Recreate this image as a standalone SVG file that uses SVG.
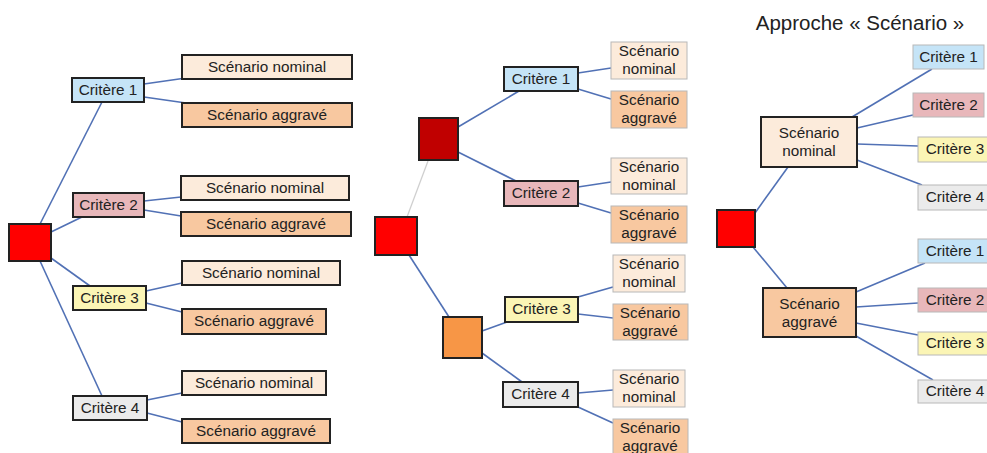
<svg xmlns="http://www.w3.org/2000/svg" width="987" height="453" viewBox="0 0 987 453">
<style>
text{font-family:"Liberation Sans",Arial,sans-serif;font-size:15.3px;fill:#222;text-anchor:middle}
.title{font-size:20.5px;fill:#222}
.b{stroke:#222;stroke-width:2}
.g{stroke:#b8b8b8;stroke-width:1}
.c1{fill:#c5e4f7}.c2{fill:#e8b7ba}.c3{fill:#fbf5b5}.c4{fill:#ebebeb}
.sn{fill:#fcebdb}.sa{fill:#f8c8a0}
.red{fill:#ff0000}.dred{fill:#c00000}.org{fill:#f79646}
#connectors line{stroke:#5171b5;stroke-width:1.6}
#connectors line.faint{stroke:#cfcfcf;stroke-width:1.3}
</style>
<rect width="987" height="453" fill="#ffffff"/>
<g id="connectors">
<line x1="40" y1="224" x2="102" y2="102"/>
<line x1="51" y1="232" x2="82" y2="217"/>
<line x1="51" y1="258" x2="90" y2="286"/>
<line x1="40" y1="261" x2="102" y2="396"/>
<line x1="144" y1="84" x2="186" y2="78"/>
<line x1="144" y1="97" x2="186" y2="103"/>
<line x1="144" y1="201" x2="181" y2="197"/>
<line x1="144" y1="210" x2="181" y2="216"/>
<line x1="146" y1="291" x2="182" y2="283"/>
<line x1="146" y1="303" x2="182" y2="312"/>
<line x1="147" y1="400" x2="182" y2="393"/>
<line x1="147" y1="413" x2="182" y2="422"/>
<line class="faint" x1="428" y1="161" x2="407" y2="217"/>
<line x1="409" y1="255" x2="449" y2="317"/>
<line x1="458" y1="127" x2="519" y2="91"/>
<line x1="458" y1="152" x2="516" y2="181"/>
<line x1="482" y1="331" x2="507" y2="322"/>
<line x1="482" y1="353" x2="522" y2="382"/>
<line x1="578" y1="73" x2="611" y2="68"/>
<line x1="578" y1="89" x2="611" y2="99"/>
<line x1="578" y1="187" x2="611" y2="182"/>
<line x1="578" y1="203" x2="611" y2="213"/>
<line x1="578" y1="297" x2="613" y2="287"/>
<line x1="578" y1="314" x2="613" y2="318"/>
<line x1="578" y1="393" x2="613" y2="390"/>
<line x1="578" y1="407" x2="613" y2="423"/>
<line x1="755" y1="213" x2="788" y2="167"/>
<line x1="852" y1="117" x2="932" y2="69"/>
<line x1="857" y1="128" x2="913" y2="115"/>
<line x1="857" y1="144" x2="918" y2="146"/>
<line x1="857" y1="160" x2="922" y2="185"/>
<line x1="753" y1="247" x2="787" y2="288"/>
<line x1="856" y1="292" x2="925" y2="263"/>
<line x1="856" y1="307" x2="918" y2="303"/>
<line x1="856" y1="323" x2="918" y2="335"/>
<line x1="856" y1="336" x2="933" y2="380"/>
</g>

<g id="p1-root"><rect class="red b" x="9" y="224" width="42" height="37"/></g>
<g id="p1-c1"><rect class="c1 b" x="72" y="78" width="72" height="24"/><text x="108" y="95">Critère 1</text></g>
<g id="p1-c1-n"><rect class="sn b" x="182" y="55" width="170" height="24"/><text x="267" y="72">Scénario nominal</text></g>
<g id="p1-c1-a"><rect class="sa b" x="182" y="103" width="170" height="24"/><text x="267" y="120">Scénario aggravé</text></g>
<g id="p1-c2"><rect class="c2 b" x="73" y="193" width="71" height="24"/><text x="108.5" y="210">Critère 2</text></g>
<g id="p1-c2-n"><rect class="sn b" x="181" y="176" width="168" height="24"/><text x="265" y="193">Scénario nominal</text></g>
<g id="p1-c2-a"><rect class="sa b" x="181" y="212" width="170" height="24"/><text x="266" y="229">Scénario aggravé</text></g>
<g id="p1-c3"><rect class="c3 b" x="73" y="286" width="73" height="24"/><text x="109.5" y="303">Critère 3</text></g>
<g id="p1-c3-n"><rect class="sn b" x="182" y="261" width="158" height="24"/><text x="261" y="278">Scénario nominal</text></g>
<g id="p1-c3-a"><rect class="sa b" x="182" y="309" width="144" height="25"/><text x="254" y="326">Scénario aggravé</text></g>
<g id="p1-c4"><rect class="c4 b" x="73" y="396" width="74" height="24"/><text x="110" y="413">Critère 4</text></g>
<g id="p1-c4-n"><rect class="sn b" x="182" y="371" width="144" height="24"/><text x="254" y="388">Scénario nominal</text></g>
<g id="p1-c4-a"><rect class="sa b" x="182" y="419" width="148" height="24"/><text x="256" y="436">Scénario aggravé</text></g>

<g id="p2-root"><rect class="red b" x="375" y="217" width="42" height="38"/></g>
<g id="p2-dark"><rect class="dred b" x="419" y="118" width="39" height="42"/></g>
<g id="p2-orange"><rect class="org b" x="443" y="317" width="39" height="41"/></g>
<g id="p2-c1"><rect class="c1 b" x="504" y="67" width="74" height="24"/><text x="541" y="84">Critère 1</text></g>
<g id="p2-c1-n"><rect class="sn g" x="611" y="42" width="76" height="37"/><text x="649" y="56">Scénario</text><text x="649" y="74">nominal</text></g>
<g id="p2-c1-a"><rect class="sa g" x="611" y="91" width="76" height="37"/><text x="649" y="105">Scénario</text><text x="649" y="123">aggravé</text></g>
<g id="p2-c2"><rect class="c2 b" x="504" y="181" width="74" height="25"/><text x="541" y="198">Critère 2</text></g>
<g id="p2-c2-n"><rect class="sn g" x="611" y="158" width="76" height="36"/><text x="649" y="172">Scénario</text><text x="649" y="190">nominal</text></g>
<g id="p2-c2-a"><rect class="sa g" x="611" y="206" width="76" height="37"/><text x="649" y="220">Scénario</text><text x="649" y="238">aggravé</text></g>
<g id="p2-c3"><rect class="c3 b" x="505" y="297" width="73" height="25"/><text x="541.5" y="314">Critère 3</text></g>
<g id="p2-c3-n"><rect class="sn g" x="613" y="255" width="72" height="37"/><text x="649" y="269">Scénario</text><text x="649" y="287">nominal</text></g>
<g id="p2-c3-a"><rect class="sa g" x="613" y="304" width="75" height="36"/><text x="650" y="318">Scénario</text><text x="650" y="336">aggravé</text></g>
<g id="p2-c4"><rect class="c4 b" x="503" y="382" width="75" height="25"/><text x="540.5" y="399">Critère 4</text></g>
<g id="p2-c4-n"><rect class="sn g" x="613" y="370" width="72" height="37"/><text x="649" y="384">Scénario</text><text x="649" y="402">nominal</text></g>
<g id="p2-c4-a"><rect class="sa g" x="613" y="419" width="75" height="38"/><text x="650" y="433">Scénario</text><text x="650" y="451">aggravé</text></g>

<text class="title" x="860" y="30">Approche « Scénario »</text>
<g id="p3-root"><rect class="red b" x="717" y="210" width="38" height="37"/></g>
<g id="p3-n"><rect class="sn b" x="761" y="117" width="96" height="50"/><text x="809" y="138">Scénario</text><text x="809" y="156">nominal</text></g>
<g id="p3-a"><rect class="sa b" x="763" y="288" width="93" height="49"/><text x="809.5" y="309">Scénario</text><text x="809.5" y="327">aggravé</text></g>
<g id="p3-n-c1"><rect class="c1 g" x="913" y="45" width="71" height="24"/><text x="948.5" y="62">Critère 1</text></g>
<g id="p3-n-c2"><rect class="c2 g" x="913" y="93" width="71" height="24"/><text x="948.5" y="110">Critère 2</text></g>
<g id="p3-n-c3"><rect class="c3 g" x="918" y="137" width="72" height="25"/><text x="955" y="154">Critère 3</text></g>
<g id="p3-n-c4"><rect class="c4 g" x="918" y="185" width="72" height="25"/><text x="955" y="202">Critère 4</text></g>
<g id="p3-a-c1"><rect class="c1 g" x="918" y="239" width="72" height="24"/><text x="955" y="256">Critère 1</text></g>
<g id="p3-a-c2"><rect class="c2 g" x="918" y="288" width="72" height="24"/><text x="955" y="305">Critère 2</text></g>
<g id="p3-a-c3"><rect class="c3 g" x="918" y="332" width="72" height="23"/><text x="955" y="348">Critère 3</text></g>
<g id="p3-a-c4"><rect class="c4 g" x="918" y="380" width="72" height="23"/><text x="955" y="396">Critère 4</text></g>
</svg>
